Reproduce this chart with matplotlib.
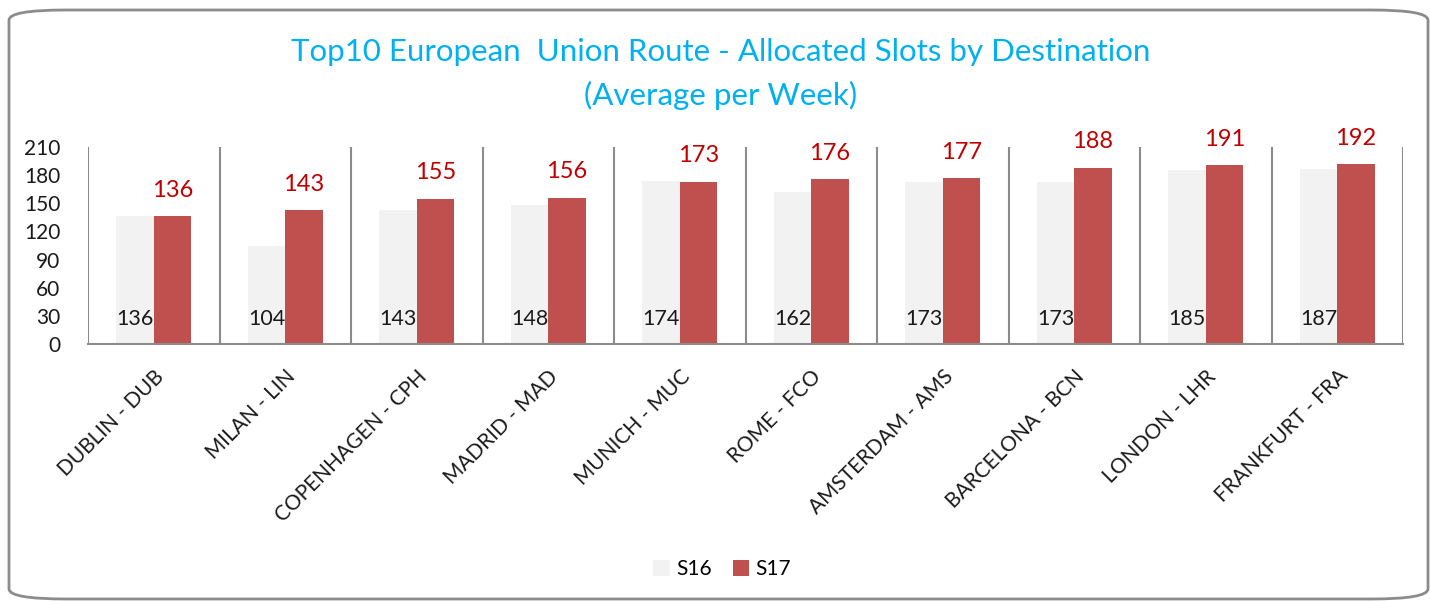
import matplotlib
matplotlib.use("Agg")
import matplotlib.pyplot as plt
import numpy as np
from matplotlib.patches import FancyBboxPatch

categories = ["DUBLIN - DUB", "MILAN - LIN", "COPENHAGEN - CPH", "MADRID - MAD",
              "MUNICH - MUC", "ROME - FCO", "AMSTERDAM - AMS", "BARCELONA - BCN",
              "LONDON - LHR", "FRANKFURT - FRA"]
s16 = [136, 104, 143, 148, 174, 162, 173, 173, 185, 187]
s17 = [136, 143, 155, 156, 173, 176, 177, 188, 191, 192]
yticks = [0, 30, 60, 90, 120, 150, 180, 210]

plt.rcParams['font.family'] = ['Lato', 'DejaVu Sans']

fig = plt.figure(figsize=(14.3, 6.01), dpi=100)
border = FancyBboxPatch((9/1430, 2/601), 1419/1430, 589/601,
                        boxstyle="round,pad=0,rounding_size=0.04",
                        transform=fig.transFigure, facecolor='none',
                        edgecolor='#8c8c8c', linewidth=2, mutation_aspect=601/1430,
                        zorder=-1)
fig.patches.append(border)

ax = fig.add_axes([88/1430, 1-344/601, (1403-88)/1430, (344-147)/601])
ax.set_facecolor('none')
x = np.arange(len(categories))
w = 0.285
b1 = ax.bar(x - w/2, s16, w, color='#F2F2F2', label='S16', zorder=2)
b2 = ax.bar(x + w/2, s17, w, color='#C0504D', label='S17', zorder=2)

for xi, v in zip(x, s16):
    ax.text(xi - w/2, 27, str(v), ha='center', va='center', fontsize=15.5, color='#1a1a1a', zorder=3)
ax.bar_label(b2, labels=[str(v) for v in s17], padding=11, fontsize=17, color='#C00000')

ax.set_xlim(-0.5, len(categories) - 0.5)
ax.set_ylim(0, 210)
ax.set_yticks(yticks)
ax.set_yticklabels([str(t) for t in yticks], fontsize=15, color='#1a1a1a')
ax.vlines(np.arange(len(categories) + 1) - 0.5, 0, 210, color='#8c8c8c', linewidth=1.5, zorder=1)
for s in ['left', 'right', 'top']:
    ax.spines[s].set_visible(False)
ax.spines['bottom'].set_color('#8c8c8c')
ax.spines['bottom'].set_linewidth(1.5)
ax.tick_params(axis='y', length=0, pad=20)
ax.tick_params(axis='x', length=0, pad=16)
ax.set_xticks(x)
ax.set_xticklabels(categories, rotation=45, ha='right', rotation_mode='anchor',
                   fontsize=15, color='#1a1a1a')

fig.text(0.504, 1-52/601, "Top10 European  Union Route - Allocated Slots by Destination",
         ha='center', va='center', fontsize=22.5, color='#00B0F0')
fig.text(0.504, 1-95/601, "(Average per Week)",
         ha='center', va='center', fontsize=22.5, color='#00B0F0')

fig.legend(handles=[b1, b2], labels=['S16', 'S17'], loc='center',
           bbox_to_anchor=(0.505, 1-569/601), ncol=2, frameon=False, fontsize=15,
           handlelength=0.8, handleheight=0.8, handletextpad=0.3, columnspacing=1.0)

fig.savefig('out.png', dpi=100)
